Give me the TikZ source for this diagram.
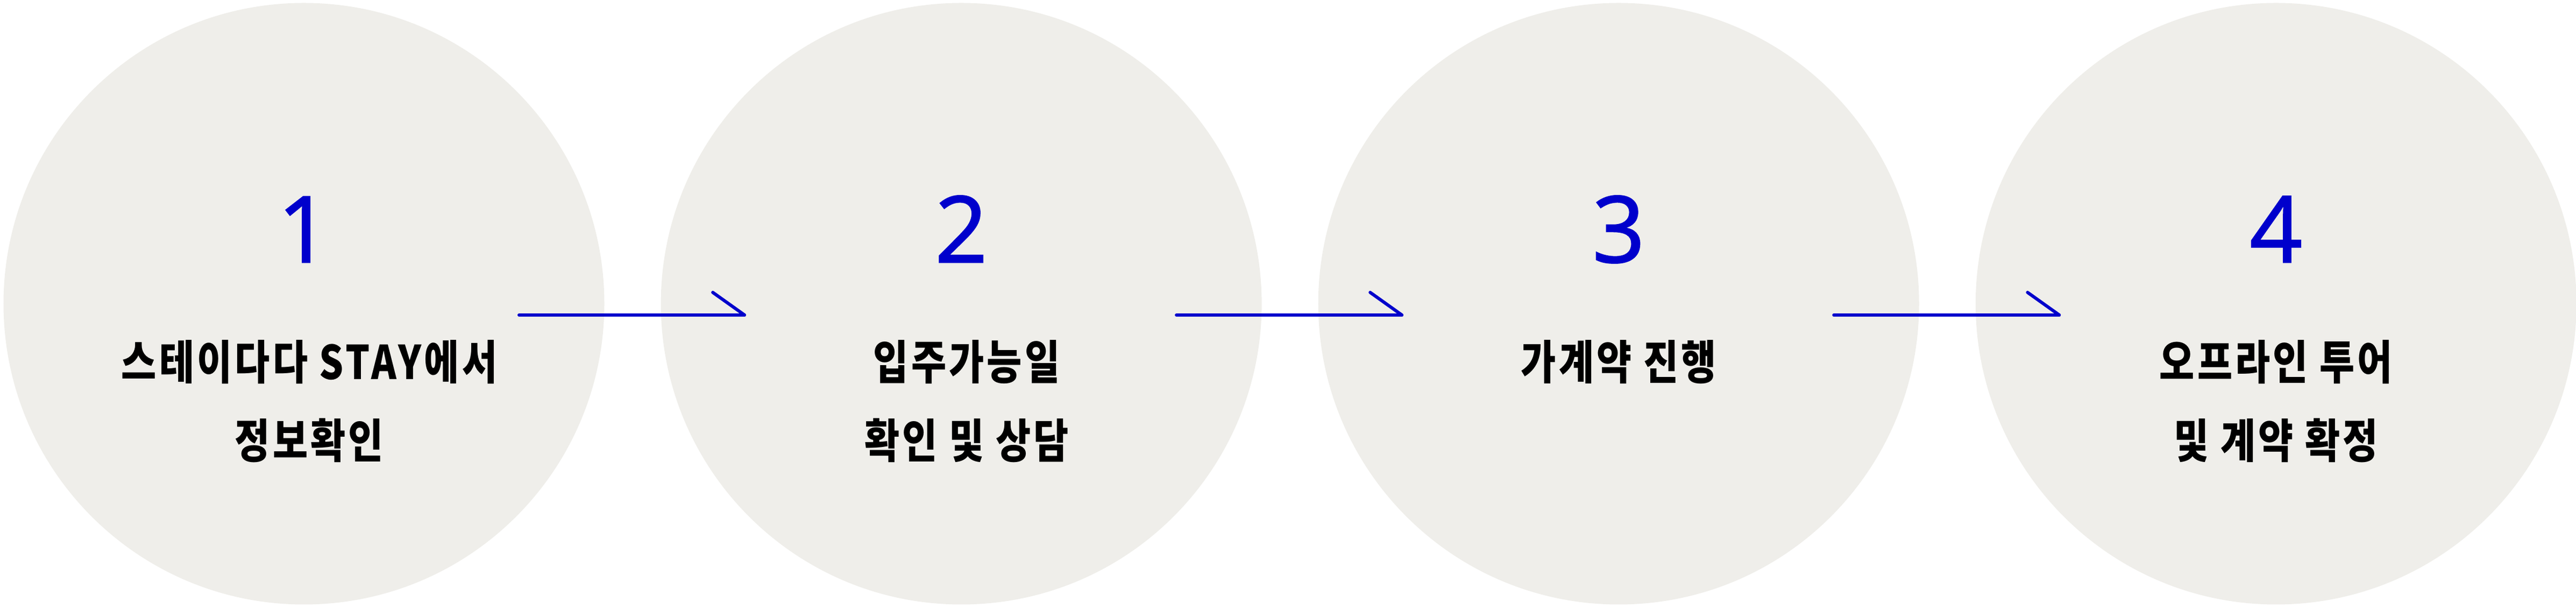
\documentclass[tikz,border=0pt]{standalone}
\usepackage{fontspec}
\setmainfont{Noto Sans CJK KR}
\newfontfamily\krfont{Noto Sans CJK KR}[FakeStretch=0.82, LetterSpace=6]
\newfontfamily\numfont{Open Sans}[FakeBold=1.5]
\usetikzlibrary{positioning, arrows.meta}
\definecolor{stepblue}{HTML}{0000CC}
\definecolor{stepgray}{HTML}{EFEEEA}

\begin{document}
\begin{tikzpicture}[
    stepcircle/.style={circle, fill=stepgray, minimum size=11.17cm, inner sep=0pt},
    stepnum/.style={anchor=base, text=stepblue, font=\numfont\fontsize{48.6}{50}\selectfont},
    steptext/.style={anchor=base, font=\krfont\bfseries\fontsize{24.6}{30}\selectfont},
    flow/.style={line width=1.7pt, stepblue, line cap=round, -{Straight Barb[left, length=5.9mm, width=8.4mm, round]}}
]
    \useasboundingbox (0,0) rectangle (47.89,11.29);
    \node (c1) [stepcircle] at (5.65,5.65) {};
    \node (c2) [stepcircle, right=1.037cm of c1] {};
    \node (c3) [stepcircle, right=1.037cm of c2] {};
    \node (c4) [stepcircle, right=1.037cm of c3] {};
    \node (n1) at ([yshift=0.77cm]c1.center) [stepnum] {1};
    \node (n2) at ([yshift=0.77cm]c2.center) [stepnum] {2};
    \node (n3) at ([yshift=0.77cm]c3.center) [stepnum] {3};
    \node (n4) at ([yshift=0.77cm]c4.center) [stepnum] {4};
    \node (t1a) at ([shift={(0.1cm,-1.41cm)}]c1.center) [steptext] {스테이다다 STAY에서};
    \node (t1b) at ([shift={(0.1cm,-2.87cm)}]c1.center) [steptext] {정보확인};
    \node (t2a) at ([shift={(0.1cm,-1.41cm)}]c2.center) [steptext] {입주가능일};
    \node (t2b) at ([shift={(0.1cm,-2.87cm)}]c2.center) [steptext] {확인 및 상담};
    \node (t3a) at ([yshift=-1.41cm]c3.center) [steptext] {가계약 진행};
    \node (t4a) at ([yshift=-1.41cm]c4.center) [steptext] {오프라인 투어};
    \node (t4b) at ([yshift=-2.87cm]c4.center) [steptext] {및 계약 확정};
    \draw [flow] ([shift={(4cm,-0.21cm)}]c1.center) -- ([shift={(-4cm,-0.21cm)}]c2.center);
    \draw [flow] ([shift={(4cm,-0.21cm)}]c2.center) -- ([shift={(-4cm,-0.21cm)}]c3.center);
    \draw [flow] ([shift={(4cm,-0.21cm)}]c3.center) -- ([shift={(-4cm,-0.21cm)}]c4.center);
\end{tikzpicture}
\end{document}
